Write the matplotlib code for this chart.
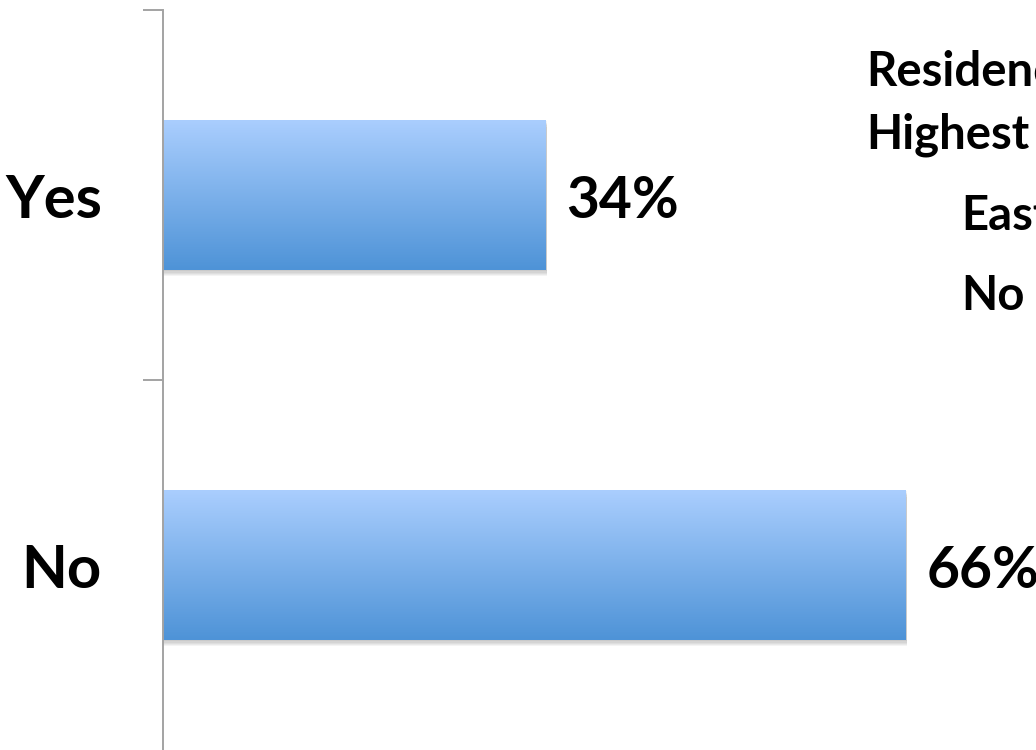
"""
Horizontal bar chart: share answering Yes / No, with gradient-filled bars.

Output:
    out.png
"""

import numpy as np
import matplotlib.pyplot as plt
from matplotlib.patches import Rectangle
from matplotlib.colors import LinearSegmentedColormap


# ---------------------------------------------------------------------
# Data
# ---------------------------------------------------------------------

categories = ["Yes", "No"]
percentages = [34, 66]

# legend text (partly outside the visible area in the original)
legend_title = ["Residence", "Highest"]
legend_entries = ["East", "No"]


# ---------------------------------------------------------------------
# Style
# ---------------------------------------------------------------------

FONT = "Lato"
AXIS_GREY = "#A3A3A3"
BAR_TOP = "#AACEFE"
BAR_BOTTOM = "#4E93D7"
BAR_HEIGHT = 0.405

plt.rcParams.update({
    "font.family": [FONT, "DejaVu Sans"],
    "font.weight": "bold",
})

gradient_cmap = LinearSegmentedColormap.from_list("bar_grad", [BAR_BOTTOM, BAR_TOP])


# ---------------------------------------------------------------------
# Figure
# ---------------------------------------------------------------------

W, H = 1036, 750
fig = plt.figure(figsize=(W / 100, H / 100), dpi=100)

x_max = 80
px_per_pct = 11.25
ax = fig.add_axes([163 / W, 0, x_max * px_per_pct / W, 740 / H])

y_pos = np.arange(len(categories))[::-1]
bars = ax.barh(y_pos, percentages, height=BAR_HEIGHT, color="none", edgecolor="none")

px_y = 1 / 370  # one pixel in data units (vertical)
DROP = -4.5     # labels sit a little below the bar centre (points)

for bar, value in zip(bars, percentages):
    x0, y0 = bar.get_x(), bar.get_y()
    w, h = bar.get_width(), bar.get_height()

    # soft drop shadow under the bar
    for k in range(5):
        ax.add_patch(Rectangle((x0, y0 - (k + 1) * 1.3 * px_y), w + 0.15, h,
                               facecolor="black", edgecolor="none",
                               alpha=0.045, zorder=1))

    grad = np.linspace(0, 1, 256).reshape(-1, 1)
    ax.imshow(grad, extent=(x0, x0 + w, y0, y0 + h), origin="lower",
              cmap=gradient_cmap, aspect="auto", zorder=2, interpolation="bilinear")

    ax.annotate(f"{value}%", xy=(x0 + w, y0 + h / 2), xytext=(15, DROP),
                textcoords="offset points", va="center", ha="left",
                fontsize=41, fontweight="bold", color="black")

ax.set_xlim(0, x_max)
ax.set_ylim(-0.5, len(categories) - 0.5)

# category labels
for y, cat in zip(y_pos, categories):
    ax.annotate(cat, xy=(0, y), xycoords=("axes fraction", "data"),
                xytext=(-44, DROP), textcoords="offset points",
                ha="right", va="center", fontsize=43, fontweight="bold")

# axis styling
for side in ["top", "right", "bottom"]:
    ax.spines[side].set_visible(False)
ax.spines["left"].set_color(AXIS_GREY)
ax.spines["left"].set_linewidth(1.4)

ax.set_xticks([])
ax.set_yticks([])
# category boundary ticks (no tick at the very bottom)
ax.set_yticks(np.arange(1, len(categories) + 1) - 0.5, minor=True)
ax.tick_params(axis="y", which="minor", length=14.5, width=1.4, color=AXIS_GREY)

# legend fragments on the right
fig.text(866 / W, 1 - 72 / H, legend_title[0], fontsize=34, fontweight="bold",
         va="center", ha="left")
fig.text(866 / W, 1 - 135 / H, legend_title[1], fontsize=34, fontweight="bold",
         va="center", ha="left")
fig.text(961 / W, 1 - 216 / H, legend_entries[0], fontsize=34, fontweight="bold",
         va="center", ha="left")
fig.text(961 / W, 1 - 296 / H, legend_entries[1], fontsize=34, fontweight="bold",
         va="center", ha="left")

fig.savefig("out.png", dpi=100, facecolor="white")
